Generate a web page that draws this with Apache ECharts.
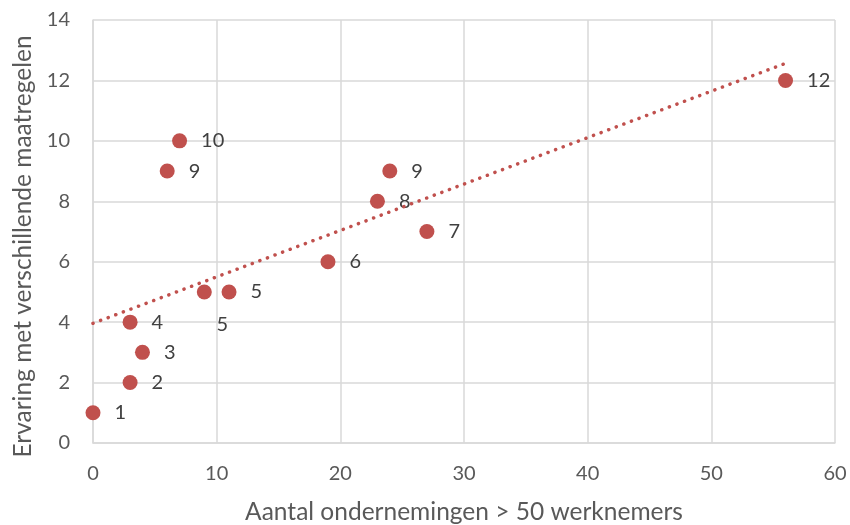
<!DOCTYPE html>
<html>
<head>
<meta charset="utf-8">
<script src="https://cdn.jsdelivr.net/npm/echarts@6/dist/echarts.min.js"></script>
<style>
  html, body { margin: 0; padding: 0; background: #fff; }
  #chart { width: 850px; height: 525px; }
</style>
</head>
<body>
<div id="chart"></div>
<script>
// Companies with > 50 employees vs. experience with different measures
const companies = [0, 3, 4, 3, 9, 11, 6, 7, 19, 23, 24, 27, 56];
const experience = [1, 2, 3, 4, 5, 5, 9, 10, 6, 8, 9, 7, 12];
const xTicks = [0, 10, 20, 30, 40, 50, 60];
const yTicks = [0, 2, 4, 6, 8, 10, 12, 14];

// Least-squares linear trendline
const n = companies.length;
const mx = companies.reduce((a, b) => a + b, 0) / n;
const my = experience.reduce((a, b) => a + b, 0) / n;
let sxy = 0, sxx = 0;
for (let i = 0; i < n; i++) {
  sxy += (companies[i] - mx) * (experience[i] - my);
  sxx += (companies[i] - mx) * (companies[i] - mx);
}
const slope = sxy / sxx;
const intercept = my - slope * mx;
const xMin = Math.min(...companies), xMax = Math.max(...companies);
const trend = [[xMin, intercept + slope * xMin], [xMax, intercept + slope * xMax]];

const red = '#C0504D';
const font = 'Lato, "Open Sans", sans-serif';

const points = companies.map((x, i) => {
  const p = { value: [x, experience[i]] };
  // the first of the two points at y = 5 carries its label underneath
  if (x === 9 && experience[i] === 5) {
    p.label = { position: 'bottom', offset: [18, 1] };
  }
  return p;
});

const chart = echarts.init(document.getElementById('chart'));
chart.setOption({
  animation: false,
  grid: { left: 93, right: 15, top: 20, bottom: 82, outerBoundsMode: 'none', containLabel: false },
  xAxis: {
    type: 'value', min: xTicks[0], max: xTicks[xTicks.length - 1], interval: 10,
    name: 'Aantal ondernemingen > 50 werknemers',
    nameLocation: 'middle', nameGap: 57,
    nameTextStyle: { color: '#595959', fontSize: 24.5, fontFamily: font },
    axisLine: { show: true, lineStyle: { color: '#D9D9D9', width: 1.5 } },
    axisTick: { show: false },
    axisLabel: { color: '#595959', fontSize: 20, fontFamily: font, margin: 21 },
    splitLine: { show: true, lineStyle: { color: '#D9D9D9', width: 1.5 } }
  },
  yAxis: {
    type: 'value', min: yTicks[0], max: yTicks[yTicks.length - 1], interval: 2,
    name: 'Ervaring met verschillende maatregelen',
    nameLocation: 'middle', nameGap: 56, nameRotate: 90,
    nameTextStyle: { color: '#595959', fontSize: 24.5, fontFamily: font, padding: [0, 30, 0, 0] },
    axisLine: { show: true, lineStyle: { color: '#D9D9D9', width: 1.5 } },
    axisTick: { show: false },
    axisLabel: { color: '#595959', fontSize: 20, fontFamily: font, margin: 23 },
    splitLine: { show: true, lineStyle: { color: '#D9D9D9', width: 1.5 } }
  },
  series: [
    {
      type: 'scatter',
      data: points,
      symbolSize: 15,
      itemStyle: { color: red, opacity: 1 },
      label: {
        show: true, position: 'right', distance: 14,
        color: '#404040', fontSize: 20, fontFamily: font,
        formatter: p => p.value[1]
      },
      z: 3
    },
    {
      type: 'line',
      data: trend,
      showSymbol: false,
      silent: true,
      lineStyle: { color: red, width: 3.5, type: [0.1, 8], cap: 'round' },
      z: 4
    }
  ]
});
</script>
</body>
</html>
